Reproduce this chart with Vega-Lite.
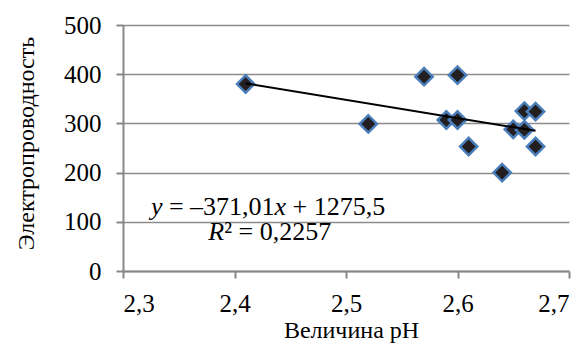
{
  "$schema": "https://vega.github.io/schema/vega-lite/v6.json",
  "autosize": "none",
  "width": 446,
  "height": 246,
  "padding": {"left": 123, "top": 25, "right": 19, "bottom": 72},
  "background": "white",
  "config": {
    "view": {"stroke": null},
    "font": "Liberation Serif",
    "axis": {
      "labelFont": "Liberation Serif",
      "titleFont": "Liberation Serif",
      "labelColor": "#000000",
      "titleColor": "#000000",
      "titleFontWeight": "normal",
      "labelFontSize": 25,
      "titleFontSize": 24,
      "domainColor": "#878787",
      "domainWidth": 2,
      "tickColor": "#878787",
      "tickWidth": 2,
      "tickSize": 7,
      "gridColor": "#8c8c8c",
      "gridWidth": 1.5
    }
  },
  "datasets": {
    "points": [
      {"ph": 2.41, "ec": 380},
      {"ph": 2.52, "ec": 299},
      {"ph": 2.57, "ec": 395},
      {"ph": 2.60, "ec": 398},
      {"ph": 2.59, "ec": 307},
      {"ph": 2.60, "ec": 307},
      {"ph": 2.61, "ec": 253},
      {"ph": 2.64, "ec": 200},
      {"ph": 2.65, "ec": 288},
      {"ph": 2.66, "ec": 325},
      {"ph": 2.67, "ec": 324},
      {"ph": 2.66, "ec": 287},
      {"ph": 2.67, "ec": 253}
    ],
    "trend": [
      {"ph": 2.41, "ec": 381.3},
      {"ph": 2.67, "ec": 284.9}
    ],
    "one": [{"k": 1}]
  },
  "layer": [
    {
      "data": {"name": "points"},
      "mark": {"type": "point", "shape": "diamond", "filled": true, "fill": "#231f20", "stroke": "#4a7ebb", "strokeWidth": 2.5, "size": 300, "opacity": 1},
      "encoding": {
        "x": {
          "field": "ph", "type": "quantitative",
          "scale": {"domain": [2.3, 2.7], "nice": false, "zero": false},
          "axis": {
            "values": [2.3, 2.4, 2.5, 2.6, 2.7],
            "grid": false,
            "labelFont": "Liberation Serif",
            "labelFontSize": 25,
            "labelPadding": 13,
            "labelExpr": "replace(format(datum.value, '.1f'), '.', ',')",
            "title": "Величина pH",
            "titleFont": "Liberation Serif",
            "titleBaseline": "alphabetic",
            "titleX": 228,
            "titleY": 66
          }
        },
        "y": {
          "field": "ec", "type": "quantitative",
          "scale": {"domain": [0, 500], "nice": false},
          "axis": {
            "values": [0, 100, 200, 300, 400, 500],
            "grid": true,
            "labelFont": "Liberation Serif",
            "labelFontSize": 25,
            "labelPadding": 15,
            "title": "Электропроводность",
            "titleFont": "Liberation Serif",
            "titleAngle": -90,
            "titleBaseline": "alphabetic",
            "titleAlign": "center",
            "titleX": -90,
            "titleY": 118
          }
        }
      }
    },
    {
      "data": {"name": "trend"},
      "mark": {"type": "line", "color": "#000000", "strokeWidth": 2},
      "encoding": {
        "x": {"field": "ph", "type": "quantitative"},
        "y": {"field": "ec", "type": "quantitative"}
      }
    },
    {
      "data": {"name": "one"},
      "mark": {"type": "text", "align": "left", "baseline": "middle", "fontSize": 26, "font": "Liberation Serif", "fontStyle": "italic", "text": "y"},
      "encoding": {"x": {"datum": 2.325}, "y": {"datum": 131}}
    },
    {
      "data": {"name": "one"},
      "mark": {"type": "text", "align": "left", "baseline": "middle", "fontSize": 26, "font": "Liberation Serif", "text": "= –371,01", "dx": 18},
      "encoding": {"x": {"datum": 2.325}, "y": {"datum": 131}}
    },
    {
      "data": {"name": "one"},
      "mark": {"type": "text", "align": "left", "baseline": "middle", "fontSize": 26, "font": "Liberation Serif", "fontStyle": "italic", "text": "x", "dx": 123.7},
      "encoding": {"x": {"datum": 2.325}, "y": {"datum": 131}}
    },
    {
      "data": {"name": "one"},
      "mark": {"type": "text", "align": "left", "baseline": "middle", "fontSize": 26, "font": "Liberation Serif", "text": "+ 1275,5", "dx": 141.7},
      "encoding": {"x": {"datum": 2.325}, "y": {"datum": 131}}
    },
    {
      "data": {"name": "one"},
      "mark": {"type": "text", "align": "left", "baseline": "middle", "fontSize": 26, "font": "Liberation Serif", "fontStyle": "italic", "text": "R"},
      "encoding": {"x": {"datum": 2.3765}, "y": {"datum": 80}}
    },
    {
      "data": {"name": "one"},
      "mark": {"type": "text", "align": "left", "baseline": "middle", "fontSize": 26, "font": "Liberation Serif", "text": "² = 0,2257", "dx": 15.9},
      "encoding": {"x": {"datum": 2.3765}, "y": {"datum": 80}}
    }
  ]
}
